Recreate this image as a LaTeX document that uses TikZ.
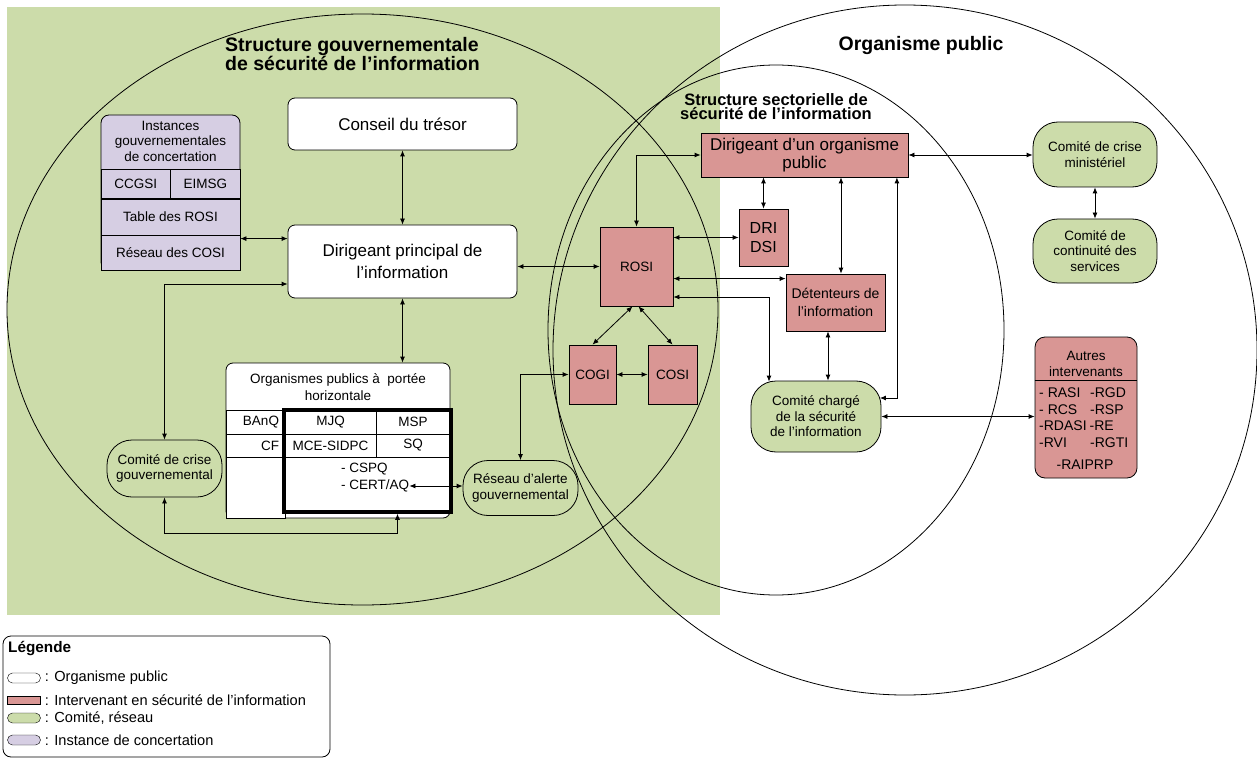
\documentclass[tikz,border=0pt]{standalone}
\usepackage{fontspec}
\setmainfont{Liberation Sans}
\usetikzlibrary{arrows.meta,positioning}
\definecolor{fondvert}{RGB}{204,220,170}
\definecolor{rouge}{RGB}{217,150,148}
\definecolor{mauve}{RGB}{214,206,227}
\newcommand\grand{\fontsize{17}{22}\selectfont}
\newcommand\petit{\fontsize{13.5}{15.5}\selectfont}
\tikzset{
  orgbox/.style={draw, fill=white, rounded corners=7pt, line width=0.8pt, align=center, inner sep=0pt, font=\grand},
  intbox/.style={draw, fill=rouge, line width=0.8pt, align=center, inner sep=0pt, font=\petit},
  combox/.style={draw, fill=fondvert, rounded corners=25pt, line width=0.8pt, align=center, inner sep=0pt, font=\petit},
  instcell/.style={draw, fill=mauve, line width=0.8pt, align=center, inner sep=0pt, font=\petit},
  cell/.style={draw, fill=white, line width=0.8pt, align=center, inner sep=0pt, font=\petit},
  texte/.style={inner sep=0pt, align=center, font=\petit},
  titre/.style={inner sep=0pt, align=left, font={\fontsize{19.5}{19}\selectfont\bfseries}},
  legtxt/.style={inner sep=0pt, font={\fontsize{14.6}{16}\selectfont}},
}
\begin{document}
\begin{tikzpicture}[x=1pt, y=-1pt, >={Latex[length=6pt,width=5pt]}]
      \useasboundingbox (0,0) rectangle (1257,759);
      % fond et ensembles
      \fill[fondvert] (7,7) rectangle (720,615);
      \draw[line width=0.8pt] (362.5,309.5) ellipse [x radius=355.5pt, y radius=295.5pt];
      \draw[line width=0.8pt] (776,330) ellipse [x radius=228pt, y radius=265pt];
      \draw[line width=0.8pt] (905,350) ellipse [x radius=352pt, y radius=345pt];
      \node[titre] (tsg) at (352.5,54) {Structure gouvernementale\\de sécurité de l’information};
      \node[titre] (top) at (921,46) {Organisme public};
      \node[titre, align=center, font={\fontsize{16.5}{14}\selectfont\bfseries}] (tss) at (776,107) {Structure sectorielle de\\sécurité de l’information};
      % structure gouvernementale
      \node[orgbox, minimum width=229pt, minimum height=52pt] (cons) at (402.5,124) {Conseil du trésor};
      \node[orgbox, minimum width=229pt, minimum height=73pt] (dpi) at (402.5,261.5) {Dirigeant principal de\\l’information};
      \node[instcell, rounded corners=8pt, minimum width=139pt, minimum height=155pt] (inst) at (170.5,192.5) {};
      \node[texte] (insth) at (170.5,141) {Instances\\gouvernementales\\de concertation};
      \node[instcell, minimum width=69.5pt, minimum height=29pt] (ccgsi) at (135.75,184) {CCGSI};
      \node[instcell, minimum width=69.5pt, minimum height=29pt] (eimsg) at (205.25,184) {EIMSG};
      \node[instcell, minimum width=139pt, minimum height=36pt] (trosi) at (170.5,217) {Table des ROSI};
      \node[instcell, minimum width=139pt, minimum height=35pt] (rcosi) at (170.5,252.5) {Réseau des COSI};
      \node[orgbox, minimum width=224pt, minimum height=155pt] (oph) at (338,440.5) {};
      \node[texte] (ophd) at (338,387) {Organismes publics à~ portée\\[2pt]horizontale};
      \node[cell, text width=47pt, align=right, inner xsep=6pt, minimum height=24pt] (banq) at (255.5,422) {BAnQ};
      \node[cell, text width=47pt, align=right, inner xsep=6pt, minimum height=23pt] (cf) at (255.5,445.5) {CF};
      \node[cell, minimum width=59pt, minimum height=61pt] (vide) at (255.5,487.5) {};
      \node[cell, minimum width=91pt, minimum height=24pt] (mjq) at (330.5,422) {MJQ};
      \node[cell, minimum width=74pt, minimum height=24pt] (msp) at (413,422) {MSP};
      \node[cell, minimum width=91pt, minimum height=23pt] (mce) at (330.5,445.5) {MCE-SIDPC};
      \node[cell, minimum width=74pt, minimum height=23pt] (sq) at (413,445.5) {SQ};
      \node[draw, line width=3.5pt, inner sep=0pt, minimum width=167pt, minimum height=102pt] (cadre) at (367.5,461) {};
      \node[texte, anchor=west] (cspq) at (341,469) {- CSPQ};
      \node[texte, anchor=west] (cert) at (341,486) {- CERT/AQ};
      \node[combox, minimum width=115pt, minimum height=57pt] (cgg) at (164.5,468.5) {Comité de crise\\gouvernemental};
      \node[combox, minimum width=115pt, minimum height=55pt] (ral) at (520.5,488) {Réseau d’alerte\\gouvernemental};
      % structure sectorielle
      \node[intbox, minimum width=73pt, minimum height=79pt] (rosi) at (636.5,266.5) {ROSI};
      \node[intbox, minimum width=47pt, minimum height=59pt] (cogi) at (592.5,374.5) {COGI};
      \node[intbox, minimum width=49pt, minimum height=59pt] (cosi) at (672.5,374.5) {COSI};
      \node[intbox, font={\fontsize{17}{17.5}\selectfont}, minimum width=207pt, minimum height=44pt] (dop) at (804.5,155) {Dirigeant d’un organisme\\public};
      \node[intbox, font={\fontsize{16}{19}\selectfont}, minimum width=49pt, minimum height=57pt] (dri) at (763.5,237.5) {DRI\\DSI};
      \node[intbox, font={\fontsize{14}{18}\selectfont}, minimum width=99pt, minimum height=57pt] (det) at (835.5,302.5) {Détenteurs de\\l’information};
      \node[combox, minimum width=130pt, minimum height=71pt] (ccsi) at (816,416.5) {Comité chargé\\de la sécurité\\de l’information};
      % organisme public
      \node[combox, minimum width=124pt, minimum height=65pt] (ccm) at (1095,154.5) {Comité de crise\\ministériel};
      \node[combox, minimum width=124pt, minimum height=64pt] (ccs) at (1095,251) {Comité de\\continuité des\\services};
      \node[intbox, rounded corners=10pt, minimum width=102pt, minimum height=141pt] (autres) at (1086,407.5) {};
      \node[texte] (autresh) at (1086,364) {Autres\\intervenants};
      \draw[line width=0.8pt] ([yshift=-44pt]autres.north west) -- ([yshift=-44pt]autres.north east);
      \node[inner sep=0pt, anchor=north west, align=left, font={\fontsize{14}{16.5}\selectfont}] (liste) at (1039,388)
        {\makebox[51pt][l]{- RASI}-RGD\\\makebox[51pt][l]{- RCS}-RSP\\\makebox[50.5pt][l]{-RDASI}-RE\\\makebox[51pt][l]{-RVI}-RGTI};
      \node[inner sep=0pt, font={\fontsize{14}{16.5}\selectfont}] (raiprp) at (1085,465) {-RAIPRP};
      % liens
      \coordinate (pcosi) at ([yshift=-4pt]rcosi.north east);
      \coordinate (pcgg) at ([yshift=-22.5pt]dpi.west);
      \coordinate (pbas) at ([xshift=30pt]cadre.south);
      \coordinate (pdet) at ([xshift=5.5pt]det.north);
      \coordinate (pdetw) at ([yshift=-5pt]det.north west);
      \coordinate (pcc) at ([xshift=-47pt,yshift=-1pt]ccsi.north);
      \coordinate (pdc) at ([xshift=-7.5pt]det.south);
      \coordinate (pdo) at ([xshift=-11.5pt]dop.south east);
      \coordinate (pce) at ([xshift=-1.5pt,yshift=18.5pt]ccsi.east);
      \begin{scope}[<->, line width=0.8pt]
        \draw (cons) to (dpi);
        \draw (dpi.south) to (dpi.south |- oph.north);
        \draw (pcosi) to (pcosi -| dpi.west);
        \draw (pcgg) -| (cgg.north);
        \draw (cgg.south) |- ([yshift=-20pt]pbas) -- (pbas);
        \draw (cert.east) to (cert.east -| ral.west);
        \draw (cogi.west) -| (ral.north);
        \draw (rosi.west -| dpi.east) to (rosi.west);
        \draw (dop.west) -| (rosi.north);
        \draw (dri.north) to (dri.north |- dop.south);
        \draw (rosi.east |- dri.west) to (dri.west);
        \draw (pdet) to (pdet |- dop.south);
        \draw (pdetw -| rosi.east) to (pdetw);
        \draw ([yshift=-30.5pt]rosi.east) -| (pcc);
        \draw (pdc) to (pdc |- ccsi.north);
        \draw (pdo) |- (pce);
        \draw (ccsi.east) to (ccsi.east -| autres.west);
        \draw (dop.east) to (dop.east -| ccm.west);
        \draw (ccm) to (ccs);
        \draw ([xshift=-4pt]rosi.south) to (cogi.north);
        \draw ([xshift=2pt]rosi.south) to (cosi.north);
        \draw (cogi) to (cosi);
      \end{scope}
      % legende
      \node[draw, rounded corners=8pt, line width=0.8pt, minimum width=327pt, minimum height=121pt] (legende) at (166.5,696.5) {};
      \node[inner sep=0pt, anchor=west, font={\fontsize{15.3}{16}\selectfont\bfseries}] (legt) at (8,649) {Légende};
      \node[draw, fill=white, rounded corners=5pt, inner sep=0pt, minimum width=33pt, minimum height=10pt] (legorg) at (24,678) {};
      \node[draw, fill=rouge, inner sep=0pt, minimum width=33pt, minimum height=8pt] (legint) at (24,700) {};
      \node[draw, fill=fondvert, rounded corners=5pt, inner sep=0pt, minimum width=33pt, minimum height=10pt] (legcom) at (24,718) {};
      \node[draw, fill=mauve, rounded corners=5pt, inner sep=0pt, minimum width=33pt, minimum height=10pt] (leginst) at (24,740) {};
      \node[legtxt, right=4pt of legorg] (torg) {: Organisme public};
      \node[legtxt, right=4pt of legint] (tint) {: Intervenant en sécurité de l’information};
      \node[legtxt, right=4pt of legcom] (tcom) {: Comité, réseau};
      \node[legtxt, right=4pt of leginst] (tinst) {: Instance de concertation};
    \end{tikzpicture}
\end{document}
